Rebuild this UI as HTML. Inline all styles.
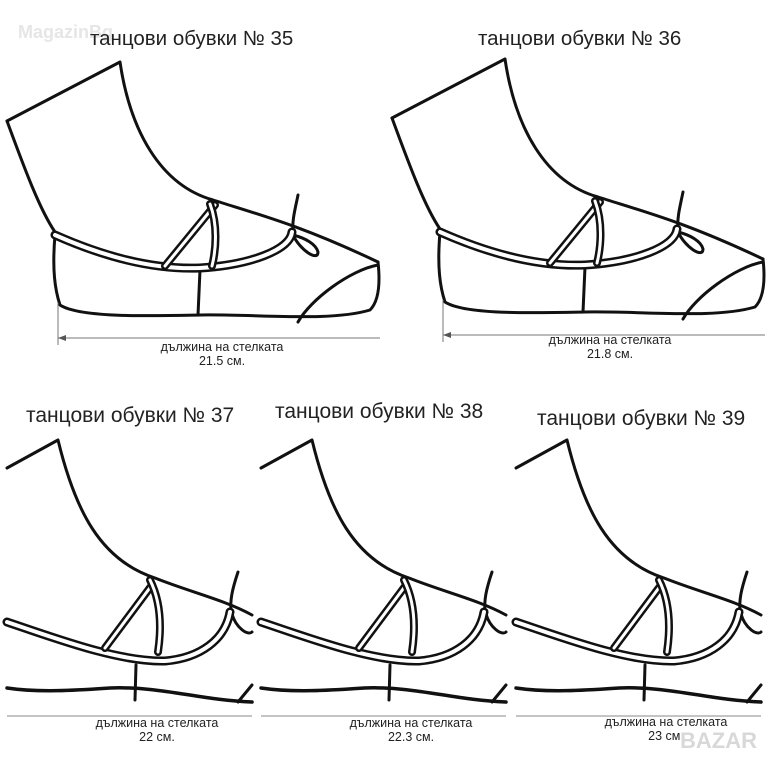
<!DOCTYPE html>
<html><head><meta charset="utf-8"><style>
html,body{margin:0;padding:0;background:#fff;}
svg{display:block}
text{font-family:"Liberation Sans",sans-serif;fill:#222}
</style></head><body>
<svg width="768" height="768" viewBox="0 0 768 768" xmlns="http://www.w3.org/2000/svg">
<defs>
<g id="top">
  <g fill="none" stroke="#111" stroke-width="3" stroke-linejoin="round" stroke-linecap="round">
    <path d="M7,121 L120,62 C130,130 160,185 213,200 C260,215 300,225 378,262"/>
    <path d="M7,121 C25,170 40,210 55,232"/>
    <path d="M55,235 C52,270 55,290 60,305 C80,318 150,316 200,315 C260,314 330,322 370,310 C380,300 380,280 378,262"/>
    <path d="M378,265 C350,270 310,300 298,322"/>
    <path d="M200,270 L198,315"/>
    <path d="M298,195 C295,210 292,220 293,232"/>
    <path d="M293,235 C300,250 318,262 318,252 C316,244 305,238 293,235"/>
  </g>
  <g fill="none" stroke-linecap="round">
    <path d="M55,235 C100,255 150,270 200,268 C250,265 290,250 292,232" stroke="#111" stroke-width="9"/>
    <path d="M55,235 C100,255 150,270 200,268 C250,265 290,250 292,232" stroke="#fff" stroke-width="4"/>
    <path d="M165,266 L215,205" stroke="#111" stroke-width="8"/>
    <path d="M165,266 L215,205" stroke="#fff" stroke-width="3"/>
    <path d="M210,204 C218,225 216,250 212,266" stroke="#111" stroke-width="8"/>
    <path d="M210,204 C218,225 216,250 212,266" stroke="#fff" stroke-width="3"/>
  </g>
  <path d="M58,338 L380,338 M58,303 L58,345" stroke="#777" stroke-width="1"/>
  <path d="M58,338 L66,335 L66,341 Z" fill="#555"/>
</g>
<g id="bot">
  <g fill="none" stroke="#111" stroke-width="3" stroke-linejoin="round" stroke-linecap="round">
    <path d="M7,468 L58,440 C75,510 100,560 155,578 C190,592 225,600 252,615"/>
    <path d="M7,688 C40,693 80,690 110,688 C160,686 200,700 252,702" stroke-width="3.5"/>
    <path d="M238,702 L252,685"/>
    <path d="M136,665 L135,700"/>
    <path d="M238,572 C232,590 230,600 231,612"/>
    <path d="M232,614 C236,628 248,636 252,632"/>
  </g>
  <g fill="none" stroke-linecap="round">
    <path d="M7,622 C60,640 120,662 165,661 C200,658 225,640 230,612" stroke="#111" stroke-width="9"/>
    <path d="M7,622 C60,640 120,662 165,661 C200,658 225,640 230,612" stroke="#fff" stroke-width="4"/>
    <path d="M105,648 L152,585" stroke="#111" stroke-width="8"/>
    <path d="M105,648 L152,585" stroke="#fff" stroke-width="3"/>
    <path d="M150,580 C160,600 162,625 158,652" stroke="#111" stroke-width="8"/>
    <path d="M150,580 C160,600 162,625 158,652" stroke="#fff" stroke-width="3"/>
  </g>
  <path d="M7,716 L252,716" stroke="#888" stroke-width="1"/>
</g>
</defs>

<text x="18" y="38" font-size="18" font-weight="bold" style="fill:#e6e6e6">MagazinBg</text>
<text x="90" y="45" font-size="20.5">танцови обувки № 35</text>
<use href="#top"/>
<text x="222" y="351" font-size="12.5" text-anchor="middle">дължина на стелката</text>
<text x="222" y="365" font-size="12.5" text-anchor="middle">21.5 см.</text>

<text x="478" y="45" font-size="20.5">танцови обувки № 36</text>
<use href="#top" transform="translate(385,-3)"/>
<text x="610" y="344" font-size="12.5" text-anchor="middle">дължина на стелката</text>
<text x="610" y="358" font-size="12.5" text-anchor="middle">21.8 см.</text>

<text x="26" y="422" font-size="21">танцови обувки № 37</text>
<use href="#bot"/>
<text x="157" y="727" font-size="12.5" text-anchor="middle">дължина на стелката</text>
<text x="157" y="741" font-size="12.5" text-anchor="middle">22 см.</text>

<text x="275" y="418" font-size="21">танцови обувки № 38</text>
<use href="#bot" transform="translate(254,0)"/>
<text x="411" y="727" font-size="12.5" text-anchor="middle">дължина на стелката</text>
<text x="411" y="741" font-size="12.5" text-anchor="middle">22.3 см.</text>

<text x="537" y="425" font-size="21">танцови обувки № 39</text>
<use href="#bot" transform="translate(509,0)"/>
<text x="666" y="726" font-size="12.5" text-anchor="middle">дължина на стелката</text>
<text x="666" y="740" font-size="12.5" text-anchor="middle">23 см.</text>
<text x="680" y="748" font-size="22" font-weight="bold" style="fill:#d8d8d8">BAZAR</text>
</svg>
</body></html>
